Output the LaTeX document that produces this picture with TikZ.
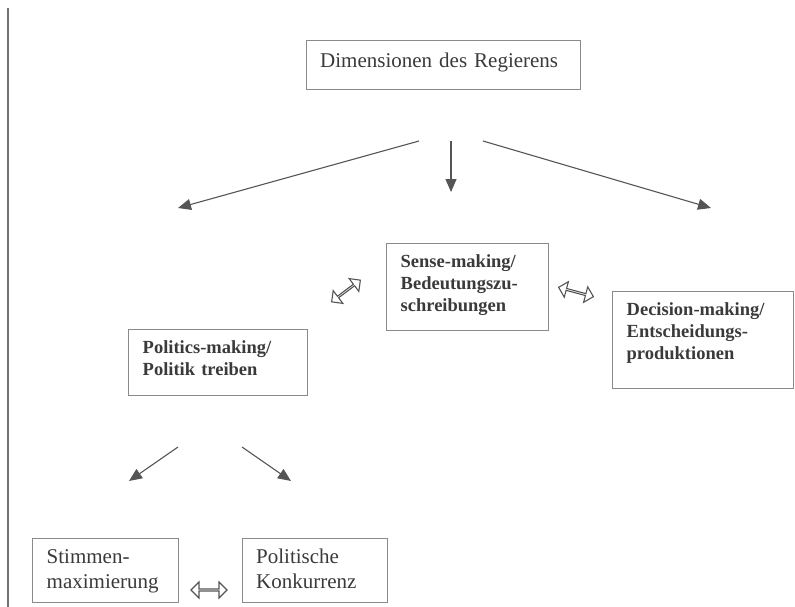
\documentclass[tikz,border=0pt]{standalone}
\usepackage{fontspec}
\setmainfont{Liberation Serif}
\usetikzlibrary{arrows.meta,shapes.arrows}
\definecolor{boxline}{HTML}{8A8A8A}
\definecolor{txt}{HTML}{3A3A3A}
\definecolor{arr}{HTML}{555555}
\begin{document}
\begin{tikzpicture}[x=1pt,y=-1pt,
  boxnode/.style={draw=boxline,line width=1.4pt,minimum width=#1,inner sep=0pt,anchor=north west},
  bigtext/.style={text=txt,anchor=base west,inner sep=0pt,align=left,text width=300pt,font=\fontsize{21}{25}\selectfont},
  midtext/.style={text=txt,anchor=base west,inner sep=0pt,align=left,text width=200pt,font=\bfseries\fontsize{18.5}{22}\selectfont},
  conn/.style={draw=arr,line width=1.1pt,-{Triangle[length=13pt,width=11pt]}},
  dblarrow/.style={double arrow,draw=arr,line width=1.1pt,fill=white,minimum height=36pt,minimum width=16pt,inner sep=0pt,double arrow head extend=4pt,double arrow head indent=0pt}
]
\useasboundingbox (0,0) rectangle (795,607);
\draw[draw=gray!90!black,line width=2pt] (8,8) -- (8,607);

% boxes
\node[boxnode=274pt,minimum height=49pt] (topbox) at (306,40) {};
\node[bigtext] (toptext) at (320,68) {Dimensionen des Regierens};

\node[boxnode=162pt,minimum height=87pt] (sensebox) at (386,243) {};
\node[midtext] (sensetext) at (400.5,267) {Sense-making/\\Bedeutungszu-\\schreibungen};

\node[boxnode=181pt,minimum height=97pt] (decbox) at (612,291) {};
\node[midtext] (dectext) at (626.5,315) {Decision-making/\\Entscheidungs-\\produktionen};

\node[boxnode=179pt,minimum height=66pt] (polbox) at (128,329) {};
\node[midtext] (poltext) at (142.5,353) {Politics-making/\\Politik treiben};

\node[boxnode=146pt,minimum height=64pt] (stimbox) at (32,538) {};
\node[bigtext] (stimtext) at (46.5,563) {Stimmen-\\maximierung};

\node[boxnode=145pt,minimum height=64pt] (konbox) at (242,538) {};
\node[bigtext] (kontext) at (256,563) {Politische\\Konkurrenz};

% arrow coordinates
\coordinate (aLs) at (419,141);
\coordinate (aLe) at (178,208);
\coordinate (aMs) at (451,141);
\coordinate (aMe) at (451,192);
\coordinate (aRs) at (483,141);
\coordinate (aRe) at (711,208);
\coordinate (bLs) at (178,447);
\coordinate (bLe) at (129,481);
\coordinate (bRs) at (242,447);
\coordinate (bRe) at (291,481);

\draw[conn] (aLs) -- (aLe);
\draw[conn] (aMs) -- (aMe);
\draw[conn] (aRs) -- (aRe);
\draw[conn] (bLs) -- (bLe);
\draw[conn] (bRs) -- (bRe);

% double arrows
\node[dblarrow,rotate=37] (dbl1) at (346,291) {};
\node[dblarrow,rotate=-15] (dbl2) at (576,292) {};
\node[dblarrow] (dbl3) at (209,590) {};
\end{tikzpicture}
\end{document}
